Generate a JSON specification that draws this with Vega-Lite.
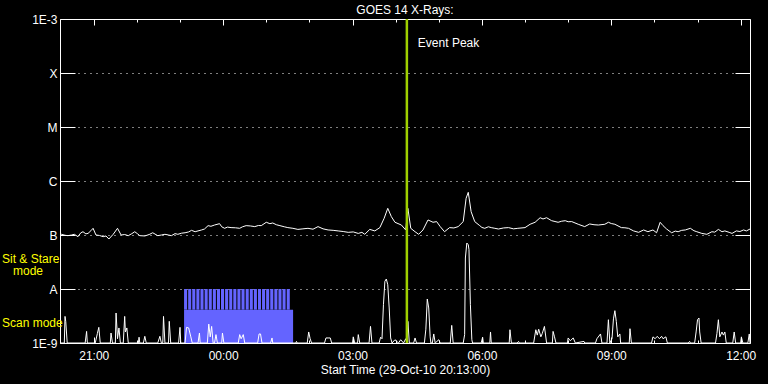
{
  "$schema": "https://vega.github.io/schema/vega-lite/v6.json",
  "width": 690,
  "height": 324,
  "autosize": {"type": "none"},
  "padding": {"left": 60, "top": 19, "right": 18, "bottom": 41},
  "background": "black",
  "title": {"text": "GOES 14 X-Rays:", "color": "white", "font": "Liberation Sans", "fontSize": 12, "fontWeight": "normal", "frame": "group", "offset": 5, "dy": 9},
  "config": {
    "view": {"stroke": "white", "strokeWidth": 1},
    "axis": {"domain": false, "tickColor": "white", "labelColor": "white", "titleColor": "white", "labelFont": "Liberation Sans", "titleFont": "Liberation Sans", "labelFontSize": 12, "titleFontSize": 12, "titleFontWeight": "normal", "grid": false}
  },
  "resolve": {"axis": {"x": "independent", "y": "independent"}},
  "datasets": {
    "dmodes": [
      {"t1": "2010-10-29T23:05:36Z", "t2": "2010-10-30T01:37:18Z", "lo": 1e-9, "hi": 4.14e-9},
      {"t1": "2010-10-29T23:05:36Z", "t2": "2010-10-29T23:09:54Z", "lo": 4.14e-9, "hi": 1e-8},
      {"t1": "2010-10-29T23:11:18Z", "t2": "2010-10-29T23:15:36Z", "lo": 4.14e-9, "hi": 1e-8},
      {"t1": "2010-10-29T23:17:00Z", "t2": "2010-10-29T23:21:18Z", "lo": 4.14e-9, "hi": 1e-8},
      {"t1": "2010-10-29T23:22:42Z", "t2": "2010-10-29T23:27:00Z", "lo": 4.14e-9, "hi": 1e-8},
      {"t1": "2010-10-29T23:28:24Z", "t2": "2010-10-29T23:32:42Z", "lo": 4.14e-9, "hi": 1e-8},
      {"t1": "2010-10-29T23:34:12Z", "t2": "2010-10-29T23:38:30Z", "lo": 4.14e-9, "hi": 1e-8},
      {"t1": "2010-10-29T23:39:54Z", "t2": "2010-10-29T23:44:12Z", "lo": 4.14e-9, "hi": 1e-8},
      {"t1": "2010-10-29T23:45:36Z", "t2": "2010-10-29T23:49:54Z", "lo": 4.14e-9, "hi": 1e-8},
      {"t1": "2010-10-29T23:51:18Z", "t2": "2010-10-29T23:55:36Z", "lo": 4.14e-9, "hi": 1e-8},
      {"t1": "2010-10-29T23:57:00Z", "t2": "2010-10-30T00:01:18Z", "lo": 4.14e-9, "hi": 1e-8},
      {"t1": "2010-10-30T00:02:42Z", "t2": "2010-10-30T00:07:00Z", "lo": 4.14e-9, "hi": 1e-8},
      {"t1": "2010-10-30T00:08:24Z", "t2": "2010-10-30T00:12:42Z", "lo": 4.14e-9, "hi": 1e-8},
      {"t1": "2010-10-30T00:14:06Z", "t2": "2010-10-30T00:18:24Z", "lo": 4.14e-9, "hi": 1e-8},
      {"t1": "2010-10-30T00:19:48Z", "t2": "2010-10-30T00:24:06Z", "lo": 4.14e-9, "hi": 1e-8},
      {"t1": "2010-10-30T00:25:30Z", "t2": "2010-10-30T00:29:48Z", "lo": 4.14e-9, "hi": 1e-8},
      {"t1": "2010-10-30T00:31:18Z", "t2": "2010-10-30T00:35:36Z", "lo": 4.14e-9, "hi": 1e-8},
      {"t1": "2010-10-30T00:37:00Z", "t2": "2010-10-30T00:41:18Z", "lo": 4.14e-9, "hi": 1e-8},
      {"t1": "2010-10-30T00:42:42Z", "t2": "2010-10-30T00:47:00Z", "lo": 4.14e-9, "hi": 1e-8},
      {"t1": "2010-10-30T00:48:24Z", "t2": "2010-10-30T00:52:42Z", "lo": 4.14e-9, "hi": 1e-8},
      {"t1": "2010-10-30T00:54:06Z", "t2": "2010-10-30T00:58:24Z", "lo": 4.14e-9, "hi": 1e-8},
      {"t1": "2010-10-30T00:59:48Z", "t2": "2010-10-30T01:04:06Z", "lo": 4.14e-9, "hi": 1e-8},
      {"t1": "2010-10-30T01:05:30Z", "t2": "2010-10-30T01:09:48Z", "lo": 4.14e-9, "hi": 1e-8},
      {"t1": "2010-10-30T01:11:12Z", "t2": "2010-10-30T01:15:30Z", "lo": 4.14e-9, "hi": 1e-8},
      {"t1": "2010-10-30T01:16:54Z", "t2": "2010-10-30T01:21:12Z", "lo": 4.14e-9, "hi": 1e-8},
      {"t1": "2010-10-30T01:22:36Z", "t2": "2010-10-30T01:26:54Z", "lo": 4.14e-9, "hi": 1e-8},
      {"t1": "2010-10-30T01:28:24Z", "t2": "2010-10-30T01:32:42Z", "lo": 4.14e-9, "hi": 1e-8}
    ],
    "dlong": [
      {"t": "2010-10-29T20:13:00Z", "v": 1.0e-7},
      {"t": "2010-10-29T20:15:00Z", "v": 1.03e-7}, {"t": "2010-10-29T20:20:00Z", "v": 9.9e-8}, {"t": "2010-10-29T20:24:00Z", "v": 9.72e-8}, {"t": "2010-10-29T20:29:00Z", "v": 1.0e-7}, {"t": "2010-10-29T20:33:00Z", "v": 1.03e-7}, {"t": "2010-10-29T20:38:00Z", "v": 9.31e-8},
      {"t": "2010-10-29T20:42:00Z", "v": 1.1e-7}, {"t": "2010-10-29T20:45:00Z", "v": 1.15e-7}, {"t": "2010-10-29T20:49:00Z", "v": 1.05e-7}, {"t": "2010-10-29T20:52:00Z", "v": 1.07e-7}, {"t": "2010-10-29T20:56:00Z", "v": 1.2e-7}, {"t": "2010-10-29T20:59:00Z", "v": 1.33e-7}, {"t": "2010-10-29T21:03:00Z", "v": 1.0e-7},
      {"t": "2010-10-29T21:08:00Z", "v": 9.8e-8}, {"t": "2010-10-29T21:13:00Z", "v": 9.31e-8}, {"t": "2010-10-29T21:17:00Z", "v": 9.6e-8}, {"t": "2010-10-29T21:21:00Z", "v": 8.43e-8}, {"t": "2010-10-29T21:27:00Z", "v": 1.03e-7}, {"t": "2010-10-29T21:33:00Z", "v": 1.33e-7},
      {"t": "2010-10-29T21:38:00Z", "v": 1.0e-7}, {"t": "2010-10-29T21:43:00Z", "v": 1.02e-7}, {"t": "2010-10-29T21:48:00Z", "v": 9.72e-8}, {"t": "2010-10-29T21:53:00Z", "v": 1.06e-7}, {"t": "2010-10-29T21:57:00Z", "v": 1.15e-7}, {"t": "2010-10-29T22:01:00Z", "v": 1.05e-7}, {"t": "2010-10-29T22:04:00Z", "v": 9.72e-8},
      {"t": "2010-10-29T22:11:00Z", "v": 9.6e-8}, {"t": "2010-10-29T22:17:00Z", "v": 1.02e-7}, {"t": "2010-10-29T22:22:00Z", "v": 1.1e-7}, {"t": "2010-10-29T22:29:00Z", "v": 9.72e-8}, {"t": "2010-10-29T22:34:00Z", "v": 1.0e-7}, {"t": "2010-10-29T22:39:00Z", "v": 1.03e-7},
      {"t": "2010-10-29T22:44:00Z", "v": 1.0e-7}, {"t": "2010-10-29T22:48:00Z", "v": 9.72e-8}, {"t": "2010-10-29T22:53:00Z", "v": 1.06e-7}, {"t": "2010-10-29T22:57:00Z", "v": 1.03e-7}, {"t": "2010-10-29T23:02:00Z", "v": 1.08e-7}, {"t": "2010-10-29T23:07:00Z", "v": 1.1e-7}, {"t": "2010-10-29T23:12:00Z", "v": 1.14e-7}, {"t": "2010-10-29T23:16:00Z", "v": 1.22e-7},
      {"t": "2010-10-29T23:21:00Z", "v": 1.15e-7}, {"t": "2010-10-29T23:25:00Z", "v": 1.19e-7}, {"t": "2010-10-29T23:30:00Z", "v": 1.24e-7}, {"t": "2010-10-29T23:34:00Z", "v": 1.29e-7}, {"t": "2010-10-29T23:39:00Z", "v": 1.49e-7}, {"t": "2010-10-29T23:43:00Z", "v": 1.45e-7}, {"t": "2010-10-29T23:48:00Z", "v": 1.53e-7},
      {"t": "2010-10-29T23:55:00Z", "v": 1.62e-7}, {"t": "2010-10-29T23:58:00Z", "v": 1.42e-7}, {"t": "2010-10-30T00:02:00Z", "v": 1.33e-7}, {"t": "2010-10-30T00:06:00Z", "v": 1.4e-7}, {"t": "2010-10-30T00:11:00Z", "v": 1.37e-7}, {"t": "2010-10-30T00:17:00Z", "v": 1.36e-7}, {"t": "2010-10-30T00:23:00Z", "v": 1.33e-7},
      {"t": "2010-10-30T00:27:00Z", "v": 1.42e-7}, {"t": "2010-10-30T00:32:00Z", "v": 1.49e-7}, {"t": "2010-10-30T00:38:00Z", "v": 1.47e-7}, {"t": "2010-10-30T00:44:00Z", "v": 1.43e-7}, {"t": "2010-10-30T00:49:00Z", "v": 1.5e-7}, {"t": "2010-10-30T00:53:00Z", "v": 1.49e-7}, {"t": "2010-10-30T01:00:00Z", "v": 1.72e-7},
      {"t": "2010-10-30T01:05:00Z", "v": 1.62e-7}, {"t": "2010-10-30T01:09:00Z", "v": 1.67e-7}, {"t": "2010-10-30T01:14:00Z", "v": 1.55e-7}, {"t": "2010-10-30T01:19:00Z", "v": 1.49e-7}, {"t": "2010-10-30T01:25:00Z", "v": 1.42e-7}, {"t": "2010-10-30T01:30:00Z", "v": 1.37e-7}, {"t": "2010-10-30T01:37:00Z", "v": 1.33e-7}, {"t": "2010-10-30T01:44:00Z", "v": 1.27e-7},
      {"t": "2010-10-30T01:51:00Z", "v": 1.3e-7}, {"t": "2010-10-30T01:58:00Z", "v": 1.33e-7}, {"t": "2010-10-30T02:05:00Z", "v": 1.28e-7}, {"t": "2010-10-30T02:12:00Z", "v": 1.43e-7}, {"t": "2010-10-30T02:19:00Z", "v": 1.3e-7}, {"t": "2010-10-30T02:26:00Z", "v": 1.24e-7}, {"t": "2010-10-30T02:33:00Z", "v": 1.22e-7}, {"t": "2010-10-30T02:40:00Z", "v": 1.19e-7},
      {"t": "2010-10-30T02:47:00Z", "v": 1.16e-7}, {"t": "2010-10-30T02:54:00Z", "v": 1.12e-7}, {"t": "2010-10-30T03:01:00Z", "v": 1.14e-7}, {"t": "2010-10-30T03:08:00Z", "v": 1.07e-7}, {"t": "2010-10-30T03:13:00Z", "v": 1.12e-7}, {"t": "2010-10-30T03:17:00Z", "v": 1.03e-7}, {"t": "2010-10-30T03:24:00Z", "v": 1.27e-7},
      {"t": "2010-10-30T03:31:00Z", "v": 1.19e-7}, {"t": "2010-10-30T03:38:00Z", "v": 1.37e-7}, {"t": "2010-10-30T03:44:00Z", "v": 2.04e-7}, {"t": "2010-10-30T03:49:00Z", "v": 3.12e-7},
      {"t": "2010-10-30T03:54:00Z", "v": 2.19e-7}, {"t": "2010-10-30T03:59:00Z", "v": 1.72e-7}, {"t": "2010-10-30T04:08:00Z", "v": 1.53e-7}, {"t": "2010-10-30T04:14:00Z", "v": 1.24e-7},
      {"t": "2010-10-30T04:17:00Z", "v": 3.12e-7}, {"t": "2010-10-30T04:21:00Z", "v": 1.33e-7}, {"t": "2010-10-30T04:27:00Z", "v": 1.15e-7}, {"t": "2010-10-30T04:32:00Z", "v": 1.03e-7},
      {"t": "2010-10-30T04:38:00Z", "v": 1.24e-7}, {"t": "2010-10-30T04:45:00Z", "v": 1.9e-7}, {"t": "2010-10-30T04:52:00Z", "v": 1.72e-7}, {"t": "2010-10-30T04:57:00Z", "v": 1.77e-7},
      {"t": "2010-10-30T05:02:00Z", "v": 1.43e-7}, {"t": "2010-10-30T05:08:00Z", "v": 1.15e-7}, {"t": "2010-10-30T05:15:00Z", "v": 1.37e-7}, {"t": "2010-10-30T05:21:00Z", "v": 1.35e-7}, {"t": "2010-10-30T05:27:00Z", "v": 1.43e-7},
      {"t": "2010-10-30T05:34:00Z", "v": 1.77e-7}, {"t": "2010-10-30T05:38:00Z", "v": 4.78e-7}, {"t": "2010-10-30T05:41:00Z", "v": 6.17e-7}, {"t": "2010-10-30T05:45:00Z", "v": 2.7e-7},
      {"t": "2010-10-30T05:50:00Z", "v": 1.77e-7}, {"t": "2010-10-30T05:57:00Z", "v": 1.49e-7}, {"t": "2010-10-30T06:00:00Z", "v": 1.38e-7}, {"t": "2010-10-30T06:04:00Z", "v": 1.33e-7}, {"t": "2010-10-30T06:09:00Z", "v": 1.42e-7}, {"t": "2010-10-30T06:13:00Z", "v": 1.37e-7},
      {"t": "2010-10-30T06:18:00Z", "v": 1.33e-7}, {"t": "2010-10-30T06:23:00Z", "v": 1.29e-7}, {"t": "2010-10-30T06:30:00Z", "v": 1.35e-7}, {"t": "2010-10-30T06:37:00Z", "v": 1.37e-7}, {"t": "2010-10-30T06:44:00Z", "v": 1.3e-7}, {"t": "2010-10-30T06:50:00Z", "v": 1.33e-7}, {"t": "2010-10-30T07:00:00Z", "v": 1.37e-7},
      {"t": "2010-10-30T07:07:00Z", "v": 1.58e-7}, {"t": "2010-10-30T07:14:00Z", "v": 1.72e-7}, {"t": "2010-10-30T07:21:00Z", "v": 2.09e-7}, {"t": "2010-10-30T07:25:00Z", "v": 1.98e-7}, {"t": "2010-10-30T07:30:00Z", "v": 2.09e-7},
      {"t": "2010-10-30T07:37:00Z", "v": 1.84e-7}, {"t": "2010-10-30T07:46:00Z", "v": 1.72e-7}, {"t": "2010-10-30T07:51:00Z", "v": 1.8e-7}, {"t": "2010-10-30T07:56:00Z", "v": 1.84e-7}, {"t": "2010-10-30T08:00:00Z", "v": 1.76e-7}, {"t": "2010-10-30T08:05:00Z", "v": 1.77e-7},
      {"t": "2010-10-30T08:14:00Z", "v": 1.58e-7}, {"t": "2010-10-30T08:23:00Z", "v": 1.43e-7}, {"t": "2010-10-30T08:30:00Z", "v": 1.6e-7}, {"t": "2010-10-30T08:36:00Z", "v": 1.55e-7}, {"t": "2010-10-30T08:42:00Z", "v": 1.53e-7},
      {"t": "2010-10-30T08:51:00Z", "v": 1.58e-7}, {"t": "2010-10-30T08:56:00Z", "v": 1.72e-7}, {"t": "2010-10-30T09:00:00Z", "v": 1.63e-7}, {"t": "2010-10-30T09:05:00Z", "v": 1.58e-7}, {"t": "2010-10-30T09:14:00Z", "v": 1.37e-7},
      {"t": "2010-10-30T09:19:00Z", "v": 1.36e-7}, {"t": "2010-10-30T09:24:00Z", "v": 1.33e-7}, {"t": "2010-10-30T09:31:00Z", "v": 1.19e-7}, {"t": "2010-10-30T09:38:00Z", "v": 1.12e-7}, {"t": "2010-10-30T09:45:00Z", "v": 1.24e-7},
      {"t": "2010-10-30T09:51:00Z", "v": 1.15e-7}, {"t": "2010-10-30T09:58:00Z", "v": 1.24e-7}, {"t": "2010-10-30T10:03:00Z", "v": 1.1e-7}, {"t": "2010-10-30T10:08:00Z", "v": 1.72e-7},
      {"t": "2010-10-30T10:12:00Z", "v": 1.49e-7}, {"t": "2010-10-30T10:17:00Z", "v": 1.29e-7}, {"t": "2010-10-30T10:24:00Z", "v": 1.1e-7}, {"t": "2010-10-30T10:29:00Z", "v": 1.18e-7}, {"t": "2010-10-30T10:33:00Z", "v": 1.15e-7},
      {"t": "2010-10-30T10:38:00Z", "v": 1.22e-7}, {"t": "2010-10-30T10:43:00Z", "v": 1.24e-7}, {"t": "2010-10-30T10:50:00Z", "v": 1.33e-7}, {"t": "2010-10-30T10:55:00Z", "v": 1.2e-7}, {"t": "2010-10-30T10:59:00Z", "v": 1.15e-7}, {"t": "2010-10-30T11:06:00Z", "v": 1.07e-7},
      {"t": "2010-10-30T11:13:00Z", "v": 1.03e-7}, {"t": "2010-10-30T11:20:00Z", "v": 1.15e-7}, {"t": "2010-10-30T11:24:00Z", "v": 1.13e-7}, {"t": "2010-10-30T11:29:00Z", "v": 1.27e-7}, {"t": "2010-10-30T11:34:00Z", "v": 1.15e-7}, {"t": "2010-10-30T11:38:00Z", "v": 1.19e-7},
      {"t": "2010-10-30T11:44:00Z", "v": 1.12e-7}, {"t": "2010-10-30T11:48:00Z", "v": 1.07e-7}, {"t": "2010-10-30T11:54:00Z", "v": 1.19e-7}, {"t": "2010-10-30T11:59:00Z", "v": 1.16e-7}, {"t": "2010-10-30T12:04:00Z", "v": 1.24e-7}, {"t": "2010-10-30T12:08:00Z", "v": 1.19e-7}, {"t": "2010-10-30T12:13:00Z", "v": 1.29e-7}
    ],
    "dshort": [
      {"t": "2010-10-29T20:13:00Z", "v": 1e-9}, {"t": "2010-10-29T20:19:00Z", "v": 1e-9}, {"t": "2010-10-29T20:20:00Z", "v": 3.11e-9}, {"t": "2010-10-29T20:21:00Z", "v": 2.5e-9}, {"t": "2010-10-29T20:23:00Z", "v": 1e-9},
      {"t": "2010-10-29T20:48:00Z", "v": 1e-9}, {"t": "2010-10-29T20:50:00Z", "v": 1.64e-9}, {"t": "2010-10-29T20:51:00Z", "v": 1e-9},
      {"t": "2010-10-29T21:02:00Z", "v": 1e-9}, {"t": "2010-10-29T21:05:00Z", "v": 1.5e-9}, {"t": "2010-10-29T21:07:00Z", "v": 1.95e-9}, {"t": "2010-10-29T21:09:00Z", "v": 1e-9},
      {"t": "2010-10-29T21:23:00Z", "v": 1e-9}, {"t": "2010-10-29T21:24:00Z", "v": 1.53e-9}, {"t": "2010-10-29T21:26:00Z", "v": 1e-9},
      {"t": "2010-10-29T21:30:00Z", "v": 1e-9}, {"t": "2010-10-29T21:31:00Z", "v": 3.59e-9}, {"t": "2010-10-29T21:33:00Z", "v": 1.2e-9}, {"t": "2010-10-29T21:35:00Z", "v": 1.9e-9}, {"t": "2010-10-29T21:37:00Z", "v": 1e-9},
      {"t": "2010-10-29T21:41:00Z", "v": 1e-9}, {"t": "2010-10-29T21:43:00Z", "v": 3.11e-9}, {"t": "2010-10-29T21:44:00Z", "v": 1.6e-9}, {"t": "2010-10-29T21:46:00Z", "v": 1.9e-9}, {"t": "2010-10-29T21:48:00Z", "v": 1e-9},
      {"t": "2010-10-29T22:02:00Z", "v": 1e-9}, {"t": "2010-10-29T22:03:00Z", "v": 1.28e-9}, {"t": "2010-10-29T22:04:00Z", "v": 1e-9},
      {"t": "2010-10-29T22:09:00Z", "v": 1e-9}, {"t": "2010-10-29T22:11:00Z", "v": 1.33e-9}, {"t": "2010-10-29T22:13:00Z", "v": 1e-9},
      {"t": "2010-10-29T22:29:00Z", "v": 1e-9}, {"t": "2010-10-29T22:32:00Z", "v": 1.33e-9}, {"t": "2010-10-29T22:34:00Z", "v": 1e-9},
      {"t": "2010-10-29T22:36:00Z", "v": 1e-9}, {"t": "2010-10-29T22:37:00Z", "v": 3.11e-9}, {"t": "2010-10-29T22:39:00Z", "v": 1e-9},
      {"t": "2010-10-29T22:44:00Z", "v": 1e-9}, {"t": "2010-10-29T22:45:00Z", "v": 2.52e-9}, {"t": "2010-10-29T22:47:00Z", "v": 1e-9},
      {"t": "2010-10-29T22:58:00Z", "v": 1e-9}, {"t": "2010-10-29T23:00:00Z", "v": 1.95e-9}, {"t": "2010-10-29T23:01:00Z", "v": 1e-9},
      {"t": "2010-10-29T23:07:00Z", "v": 1e-9}, {"t": "2010-10-29T23:09:00Z", "v": 1.95e-9}, {"t": "2010-10-29T23:12:00Z", "v": 1.9e-9}, {"t": "2010-10-29T23:15:00Z", "v": 1.3e-9}, {"t": "2010-10-29T23:17:00Z", "v": 1e-9},
      {"t": "2010-10-29T23:25:00Z", "v": 1e-9}, {"t": "2010-10-29T23:27:00Z", "v": 1.53e-9}, {"t": "2010-10-29T23:28:00Z", "v": 1e-9},
      {"t": "2010-10-29T23:38:00Z", "v": 1e-9}, {"t": "2010-10-29T23:40:00Z", "v": 2.24e-9}, {"t": "2010-10-29T23:42:00Z", "v": 1.3e-9}, {"t": "2010-10-29T23:44:00Z", "v": 2.03e-9}, {"t": "2010-10-29T23:46:00Z", "v": 1e-9},
      {"t": "2010-10-29T23:48:00Z", "v": 1e-9}, {"t": "2010-10-29T23:50:00Z", "v": 1.43e-9}, {"t": "2010-10-29T23:52:00Z", "v": 1e-9},
      {"t": "2010-10-29T23:58:00Z", "v": 1e-9}, {"t": "2010-10-29T23:59:00Z", "v": 1.53e-9}, {"t": "2010-10-30T00:01:00Z", "v": 1e-9},
      {"t": "2010-10-30T00:21:00Z", "v": 1e-9}, {"t": "2010-10-30T00:23:00Z", "v": 1.43e-9}, {"t": "2010-10-30T00:25:00Z", "v": 1.2e-9}, {"t": "2010-10-30T00:28:00Z", "v": 1.43e-9}, {"t": "2010-10-30T00:30:00Z", "v": 1e-9},
      {"t": "2010-10-30T00:48:00Z", "v": 1e-9}, {"t": "2010-10-30T00:50:00Z", "v": 1.47e-9}, {"t": "2010-10-30T00:52:00Z", "v": 1.47e-9}, {"t": "2010-10-30T00:54:00Z", "v": 1e-9},
      {"t": "2010-10-30T01:06:00Z", "v": 1e-9}, {"t": "2010-10-30T01:08:00Z", "v": 1.24e-9}, {"t": "2010-10-30T01:09:00Z", "v": 1e-9},
      {"t": "2010-10-30T01:41:00Z", "v": 1e-9}, {"t": "2010-10-30T01:42:00Z", "v": 1.07e-9}, {"t": "2010-10-30T01:43:00Z", "v": 1e-9},
      {"t": "2010-10-30T01:57:00Z", "v": 1e-9}, {"t": "2010-10-30T01:59:00Z", "v": 1.6e-9}, {"t": "2010-10-30T02:01:00Z", "v": 1.2e-9}, {"t": "2010-10-30T02:03:00Z", "v": 1e-9},
      {"t": "2010-10-30T02:21:00Z", "v": 1e-9}, {"t": "2010-10-30T02:23:00Z", "v": 1.24e-9}, {"t": "2010-10-30T02:26:00Z", "v": 1.24e-9}, {"t": "2010-10-30T02:29:00Z", "v": 1.24e-9}, {"t": "2010-10-30T02:31:00Z", "v": 1e-9},
      {"t": "2010-10-30T03:00:00Z", "v": 1e-9}, {"t": "2010-10-30T03:01:00Z", "v": 1.3e-9}, {"t": "2010-10-30T03:03:00Z", "v": 1e-9},
      {"t": "2010-10-30T03:07:00Z", "v": 1e-9}, {"t": "2010-10-30T03:08:00Z", "v": 1.43e-9}, {"t": "2010-10-30T03:10:00Z", "v": 1e-9},
      {"t": "2010-10-30T03:23:00Z", "v": 1e-9}, {"t": "2010-10-30T03:25:00Z", "v": 2.03e-9}, {"t": "2010-10-30T03:27:00Z", "v": 1e-9},
      {"t": "2010-10-30T03:37:00Z", "v": 1e-9}, {"t": "2010-10-30T03:39:00Z", "v": 1.28e-9}, {"t": "2010-10-30T03:41:00Z", "v": 1.2e-9}, {"t": "2010-10-30T03:43:00Z", "v": 5.12e-9}, {"t": "2010-10-30T03:45:00Z", "v": 1.39e-8}, {"t": "2010-10-30T03:47:00Z", "v": 1.53e-8}, {"t": "2010-10-30T03:49:00Z", "v": 1.2e-8}, {"t": "2010-10-30T03:51:00Z", "v": 4.45e-9}, {"t": "2010-10-30T03:53:00Z", "v": 1.24e-9}, {"t": "2010-10-30T03:55:00Z", "v": 1e-9},
      {"t": "2010-10-30T03:59:00Z", "v": 1.15e-9}, {"t": "2010-10-30T04:04:00Z", "v": 1e-9}, {"t": "2010-10-30T04:07:00Z", "v": 1.15e-9}, {"t": "2010-10-30T04:11:00Z", "v": 1e-9},
      {"t": "2010-10-30T04:14:00Z", "v": 1.2e-9}, {"t": "2010-10-30T04:16:00Z", "v": 1e-9}, {"t": "2010-10-30T04:17:00Z", "v": 2.52e-9}, {"t": "2010-10-30T04:19:00Z", "v": 1e-9},
      {"t": "2010-10-30T04:25:00Z", "v": 1e-9}, {"t": "2010-10-30T04:27:00Z", "v": 1.24e-9}, {"t": "2010-10-30T04:29:00Z", "v": 1e-9},
      {"t": "2010-10-30T04:40:00Z", "v": 1e-9}, {"t": "2010-10-30T04:42:00Z", "v": 1.8e-9}, {"t": "2010-10-30T04:44:00Z", "v": 6.52e-9}, {"t": "2010-10-30T04:46:00Z", "v": 4.45e-9}, {"t": "2010-10-30T04:48:00Z", "v": 1.3e-9}, {"t": "2010-10-30T04:49:00Z", "v": 1e-9},
      {"t": "2010-10-30T04:51:00Z", "v": 1e-9}, {"t": "2010-10-30T04:53:00Z", "v": 1.47e-9}, {"t": "2010-10-30T04:55:00Z", "v": 1e-9},
      {"t": "2010-10-30T05:00:00Z", "v": 1.15e-9}, {"t": "2010-10-30T05:02:00Z", "v": 1e-9},
      {"t": "2010-10-30T05:16:00Z", "v": 1e-9}, {"t": "2010-10-30T05:18:00Z", "v": 2.12e-9}, {"t": "2010-10-30T05:20:00Z", "v": 1e-9},
      {"t": "2010-10-30T05:34:00Z", "v": 1e-9}, {"t": "2010-10-30T05:36:00Z", "v": 1.43e-9}, {"t": "2010-10-30T05:37:00Z", "v": 3.75e-8}, {"t": "2010-10-30T05:39:00Z", "v": 7.1e-8}, {"t": "2010-10-30T05:41:00Z", "v": 6.61e-8}, {"t": "2010-10-30T05:42:00Z", "v": 5.35e-8}, {"t": "2010-10-30T05:44:00Z", "v": 5.12e-9}, {"t": "2010-10-30T05:46:00Z", "v": 1.15e-9}, {"t": "2010-10-30T05:47:00Z", "v": 1e-9},
      {"t": "2010-10-30T05:59:00Z", "v": 1e-9}, {"t": "2010-10-30T06:01:00Z", "v": 1.28e-9}, {"t": "2010-10-30T06:02:00Z", "v": 1e-9},
      {"t": "2010-10-30T06:11:00Z", "v": 1e-9}, {"t": "2010-10-30T06:12:00Z", "v": 1.6e-9}, {"t": "2010-10-30T06:13:00Z", "v": 1e-9},
      {"t": "2010-10-30T06:38:00Z", "v": 1e-9}, {"t": "2010-10-30T06:39:00Z", "v": 1.76e-9}, {"t": "2010-10-30T06:41:00Z", "v": 1e-9},
      {"t": "2010-10-30T06:49:00Z", "v": 1e-9}, {"t": "2010-10-30T06:51:00Z", "v": 1.07e-9}, {"t": "2010-10-30T06:52:00Z", "v": 1e-9},
      {"t": "2010-10-30T07:12:00Z", "v": 1e-9}, {"t": "2010-10-30T07:15:00Z", "v": 1.76e-9}, {"t": "2010-10-30T07:17:00Z", "v": 1.4e-9}, {"t": "2010-10-30T07:19:00Z", "v": 1.8e-9}, {"t": "2010-10-30T07:22:00Z", "v": 1.3e-9}, {"t": "2010-10-30T07:24:00Z", "v": 1.5e-9}, {"t": "2010-10-30T07:27:00Z", "v": 2.03e-9}, {"t": "2010-10-30T07:30:00Z", "v": 1e-9},
      {"t": "2010-10-30T07:38:00Z", "v": 1e-9}, {"t": "2010-10-30T07:39:00Z", "v": 1.64e-9}, {"t": "2010-10-30T07:41:00Z", "v": 1.3e-9}, {"t": "2010-10-30T07:43:00Z", "v": 1e-9},
      {"t": "2010-10-30T07:59:00Z", "v": 1e-9}, {"t": "2010-10-30T08:00:00Z", "v": 1.24e-9}, {"t": "2010-10-30T08:03:00Z", "v": 1.1e-9}, {"t": "2010-10-30T08:07:00Z", "v": 1.24e-9}, {"t": "2010-10-30T08:10:00Z", "v": 1e-9},
      {"t": "2010-10-30T08:22:00Z", "v": 1.07e-9}, {"t": "2010-10-30T08:23:00Z", "v": 1e-9},
      {"t": "2010-10-30T08:38:00Z", "v": 1e-9}, {"t": "2010-10-30T08:40:00Z", "v": 1.2e-9}, {"t": "2010-10-30T08:45:00Z", "v": 1.47e-9}, {"t": "2010-10-30T08:47:00Z", "v": 1e-9},
      {"t": "2010-10-30T08:54:00Z", "v": 1e-9}, {"t": "2010-10-30T08:56:00Z", "v": 2.7e-9}, {"t": "2010-10-30T08:58:00Z", "v": 1e-9}, {"t": "2010-10-30T09:01:00Z", "v": 1.2e-9}, {"t": "2010-10-30T09:03:00Z", "v": 2.8e-9}, {"t": "2010-10-30T09:05:00Z", "v": 3.97e-9}, {"t": "2010-10-30T09:07:00Z", "v": 2.5e-9}, {"t": "2010-10-30T09:09:00Z", "v": 1.3e-9}, {"t": "2010-10-30T09:12:00Z", "v": 1.47e-9}, {"t": "2010-10-30T09:13:00Z", "v": 1e-9},
      {"t": "2010-10-30T09:25:00Z", "v": 1e-9}, {"t": "2010-10-30T09:26:00Z", "v": 1.84e-9}, {"t": "2010-10-30T09:28:00Z", "v": 1e-9},
      {"t": "2010-10-30T09:56:00Z", "v": 1e-9}, {"t": "2010-10-30T09:58:00Z", "v": 1.3e-9}, {"t": "2010-10-30T10:01:00Z", "v": 1.2e-9}, {"t": "2010-10-30T10:04:00Z", "v": 1.33e-9}, {"t": "2010-10-30T10:07:00Z", "v": 1.2e-9}, {"t": "2010-10-30T10:10:00Z", "v": 1.33e-9}, {"t": "2010-10-30T10:12:00Z", "v": 1.2e-9}, {"t": "2010-10-30T10:16:00Z", "v": 1.3e-9}, {"t": "2010-10-30T10:18:00Z", "v": 1e-9},
      {"t": "2010-10-30T10:47:00Z", "v": 1e-9}, {"t": "2010-10-30T10:49:00Z", "v": 1.07e-9}, {"t": "2010-10-30T10:50:00Z", "v": 1e-9},
      {"t": "2010-10-30T10:56:00Z", "v": 1e-9}, {"t": "2010-10-30T10:58:00Z", "v": 1.6e-9}, {"t": "2010-10-30T11:00:00Z", "v": 2.7e-9}, {"t": "2010-10-30T11:02:00Z", "v": 2.9e-9}, {"t": "2010-10-30T11:03:00Z", "v": 1.6e-9}, {"t": "2010-10-30T11:05:00Z", "v": 1e-9},
      {"t": "2010-10-30T11:25:00Z", "v": 1e-9}, {"t": "2010-10-30T11:27:00Z", "v": 1.5e-9}, {"t": "2010-10-30T11:29:00Z", "v": 2.7e-9}, {"t": "2010-10-30T11:31:00Z", "v": 1.3e-9}, {"t": "2010-10-30T11:34:00Z", "v": 1.6e-9}, {"t": "2010-10-30T11:36:00Z", "v": 1.4e-9}, {"t": "2010-10-30T11:38:00Z", "v": 1.6e-9}, {"t": "2010-10-30T11:40:00Z", "v": 1e-9},
      {"t": "2010-10-30T11:49:00Z", "v": 1e-9}, {"t": "2010-10-30T11:51:00Z", "v": 1.6e-9}, {"t": "2010-10-30T11:53:00Z", "v": 1e-9},
      {"t": "2010-10-30T12:00:00Z", "v": 1e-9}, {"t": "2010-10-30T12:01:00Z", "v": 1.3e-9}, {"t": "2010-10-30T12:03:00Z", "v": 1e-9},
      {"t": "2010-10-30T12:10:00Z", "v": 1e-9}, {"t": "2010-10-30T12:12:00Z", "v": 1.47e-9}, {"t": "2010-10-30T12:13:00Z", "v": 1e-9}
    ],
    "dpeak": [{"t": "2010-10-30T04:15:36Z", "v": 3.6e-4, "label": "Event Peak"}],
    "dlab1": [
      {"t": "2010-10-29T20:13:00Z", "v": 3.59e-8, "label": "Sit & Stare"},
      {"t": "2010-10-29T20:13:00Z", "v": 2.3e-9, "label": "Scan mode"}
    ],
    "dlab2": [{"t": "2010-10-29T20:13:00Z", "v": 2.11e-8, "label": "mode"}]
  },
  "layer": [
    {
      "data": {"name": "dmodes"},
      "mark": {"type": "rect", "color": "#6464ff", "clip": true},
      "encoding": {
        "x": {"field": "t1", "type": "temporal", "scale": {"type": "utc", "domain": [1288383180000, 1288440780000]}, "axis": null},
        "x2": {"field": "t2"},
        "y": {"field": "lo", "type": "quantitative", "scale": {"type": "log", "domain": [1e-9, 1e-3], "nice": false}, "axis": null},
        "y2": {"field": "hi"}
      }
    },
    {
      "data": {"name": "dshort"},
      "mark": {"type": "line", "color": "white", "strokeWidth": 1, "clip": true},
      "encoding": {
        "x": {"field": "t", "type": "temporal", "axis": {"orient": "bottom", "title": "Start Time (29-Oct-10 20:13:00)", "format": "%H:%M", "values": [1288386000000, 1288396800000, 1288407600000, 1288418400000, 1288429200000, 1288440000000], "offset": -6, "tickSize": 6, "labelPadding": 7, "titlePadding": 3}},
        "y": {"field": "v", "type": "quantitative", "axis": {"orient": "left", "values": [1e-9, 1e-8, 1e-7, 1e-6, 1e-5, 1e-4, 1e-3], "labelExpr": "datum.value < 5e-9 ? '1E-9' : datum.value < 5e-8 ? 'A' : datum.value < 5e-7 ? 'B' : datum.value < 5e-6 ? 'C' : datum.value < 5e-5 ? 'M' : datum.value < 5e-4 ? 'X' : '1E-3'", "offset": -15, "tickSize": 15, "labelPadding": 3, "grid": true, "gridColor": "white", "gridDash": [1, 5], "gridOpacity": 1, "gridWidth": 1, "title": null}}
      }
    },
    {
      "data": {"name": "dlong"},
      "mark": {"type": "line", "color": "white", "strokeWidth": 1, "clip": true},
      "encoding": {
        "x": {"field": "t", "type": "temporal", "axis": {"orient": "top", "labels": false, "title": null, "values": [1288386000000, 1288389600000, 1288393200000, 1288396800000, 1288400400000, 1288404000000, 1288407600000, 1288411200000, 1288414800000, 1288418400000, 1288422000000, 1288425600000, 1288429200000, 1288432800000, 1288436400000, 1288440000000], "offset": -3, "tickSize": 3}},
        "y": {"field": "v", "type": "quantitative", "axis": {"orient": "right", "labels": false, "title": null, "values": [1e-9, 1e-8, 1e-7, 1e-6, 1e-5, 1e-4, 1e-3], "offset": -15, "tickSize": 15}}
      }
    },
    {
      "data": {"name": "dpeak"},
      "mark": {"type": "rule", "color": "#a0d000", "strokeWidth": 2.5},
      "encoding": {
        "x": {"field": "t", "type": "temporal", "axis": {"orient": "top", "labels": false, "title": null, "values": [1288386000000, 1288396800000, 1288407600000, 1288418400000, 1288429200000, 1288440000000], "offset": -6, "tickSize": 6}}
      }
    },
    {
      "data": {"name": "dpeak"},
      "mark": {"type": "text", "color": "white", "font": "Liberation Sans", "fontSize": 12, "align": "left", "baseline": "middle", "dx": 11},
      "encoding": {
        "x": {"field": "t", "type": "temporal", "axis": {"orient": "bottom", "labels": false, "title": null, "values": [1288386000000, 1288389600000, 1288393200000, 1288396800000, 1288400400000, 1288404000000, 1288407600000, 1288411200000, 1288414800000, 1288418400000, 1288422000000, 1288425600000, 1288429200000, 1288432800000, 1288436400000, 1288440000000], "offset": -3, "tickSize": 3}},
        "y": {"field": "v", "type": "quantitative", "axis": null},
        "text": {"field": "label"}
      }
    },
    {
      "data": {"name": "dlab1"},
      "mark": {"type": "text", "color": "#ffff00", "font": "Liberation Sans", "fontSize": 12, "align": "left", "baseline": "middle", "dx": -58},
      "encoding": {
        "x": {"field": "t", "type": "temporal", "axis": null},
        "y": {"field": "v", "type": "quantitative", "axis": null},
        "text": {"field": "label"}
      }
    },
    {
      "data": {"name": "dlab2"},
      "mark": {"type": "text", "color": "#ffff00", "font": "Liberation Sans", "fontSize": 12, "align": "left", "baseline": "middle", "dx": -47},
      "encoding": {
        "x": {"field": "t", "type": "temporal", "axis": null},
        "y": {"field": "v", "type": "quantitative", "axis": null},
        "text": {"field": "label"}
      }
    }
  ]
}
